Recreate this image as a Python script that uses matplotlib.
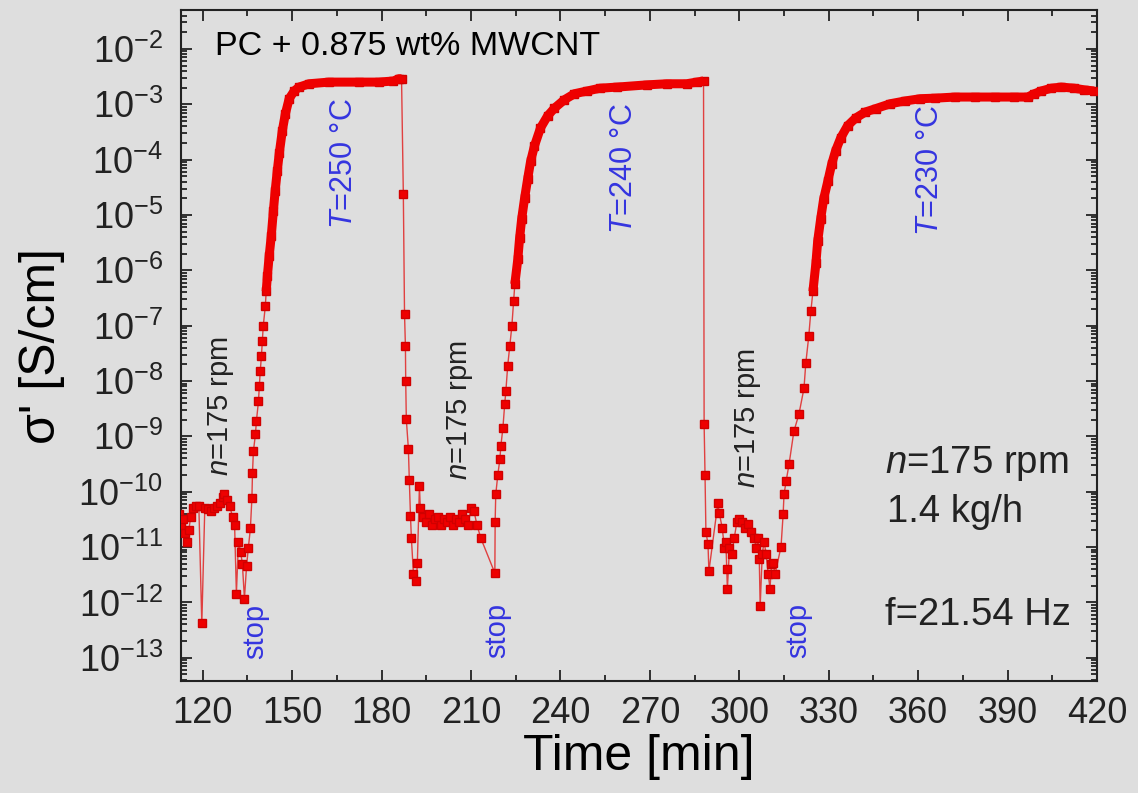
import numpy as np
import matplotlib
matplotlib.use("Agg")
import matplotlib.pyplot as plt
from matplotlib.ticker import LogLocator, MultipleLocator, NullFormatter

plt.rcParams['font.family'] = ['Liberation Sans', 'DejaVu Sans']
plt.rcParams['mathtext.fontset'] = 'custom'
plt.rcParams['mathtext.rm'] = 'Liberation Sans'
plt.rcParams['mathtext.it'] = 'Liberation Sans:italic'

# ---- data: time [min] and log10(sigma' [S/cm]) ----
# run 1 (T = 250 C): noisy part while extruding, then recovery after stop
run1_noise_t = [112.0, 112.7, 113.3, 114.0, 114.7, 115.3, 116.0, 116.7, 117.7, 118.7,
                119.7, 120.7, 121.7, 122.7, 123.7, 124.7, 125.7, 126.7, 127.3, 128.0,
                129.0, 130.0, 130.7, 131.3, 132.0, 132.7, 133.3, 134.0, 134.7, 135.3,
                136.0, 136.5]
run1_noise_log = [-10.4, -10.6, -10.5, -10.75, -10.9, -10.7, -10.45, -10.3, -10.25, -10.25,
                  -12.38, -10.3, -10.32, -10.35, -10.3, -10.25, -10.2, -10.1, -10.05, -10.15,
                  -10.25, -10.45, -10.6, -11.84, -10.9, -11.08, -11.3, -11.93, -11.35, -11.02,
                  -10.66, -10.12]
run1_rise_t = [136.7, 137.0, 137.7, 138.0, 138.7, 139.0, 139.3, 139.7, 140.0, 140.3,
               141.0, 141.3, 141.7, 142.3, 143.0, 143.7, 144.3, 145.0, 145.7, 146.7,
               147.7, 149.0, 150.7, 152.3, 155.7, 162.3, 172.3, 179.0, 184.0, 185.7, 186.7]
run1_rise_log = [-9.67, -9.27, -8.96, -8.73, -8.37, -8.09, -7.82, -7.55, -7.28, -7.01,
                 -6.65, -6.38, -6.10, -5.74, -5.38, -4.93, -4.57, -4.21, -3.88, -3.48,
                 -3.18, -2.90, -2.76, -2.69, -2.63, -2.60, -2.60, -2.60, -2.58, -2.54, -2.54]

# run 2 (T = 240 C)
run2_noise_t = [187.3, 187.7, 188.0, 188.1, 188.3, 189.0, 189.3, 189.7, 190.0, 190.7,
                191.7, 192.0, 192.7, 193.0, 194.0, 195.0, 196.0, 197.0, 198.0, 199.0,
                200.0, 201.0, 202.0, 203.0, 204.0, 205.0, 206.0, 207.0, 208.0, 209.0,
                210.0, 211.0, 212.0, 213.3]
run2_noise_log = [-4.62, -6.79, -7.37, -8.0, -8.69, -9.23, -9.78, -10.44, -10.84, -11.49,
                  -11.62, -11.29, -9.90, -10.30, -10.45, -10.55, -10.4, -10.6, -10.5, -10.45,
                  -10.6, -10.5, -10.55, -10.45, -10.6, -10.5, -10.55, -10.4, -10.5, -10.6,
                  -10.3, -10.35, -10.6, -10.84]
run2_rise_t = [218.0, 218.1, 218.3, 219.0, 219.7, 220.0, 220.7, 221.3, 221.7, 222.3,
               223.0, 223.7, 224.3, 224.7, 225.7, 226.3, 227.0, 228.0, 229.0, 230.0,
               231.3, 233.3, 235.7, 238.0, 241.3, 244.7, 249.0, 253.3, 259.0, 269.0,
               275.7, 282.3, 285.7, 288.0]
run2_rise_log = [-11.47, -10.54, -10.05, -9.69, -9.41, -9.18, -8.85, -8.42, -8.18, -7.73,
                 -7.37, -7.01, -6.56, -6.25, -5.80, -5.42, -5.07, -4.69, -4.35, -4.03,
                 -3.75, -3.43, -3.21, -3.07, -2.92, -2.81, -2.76, -2.71, -2.69, -2.65,
                 -2.63, -2.63, -2.60, -2.58]

# run 3 (T = 230 C)
run3_noise_t = [288.2, 288.5, 288.8, 289.5, 289.8, 292.8, 293.3, 294.3, 295.0, 295.5,
                295.8, 296.0, 296.7, 297.5, 298.3, 299.2, 300.0, 301.0, 302.0, 303.0,
                304.0, 305.0, 305.7, 306.3, 306.7, 307.0, 307.7, 308.3, 309.0, 309.7,
                310.3, 310.8, 311.3, 312.0, 314.0]
run3_noise_log = [-8.78, -9.69, -10.72, -10.95, -11.44, -10.21, -10.39, -10.66, -11.02, -10.90,
                  -11.39, -11.76, -11.02, -11.13, -10.84, -10.54, -10.50, -10.54, -10.66, -10.59,
                  -10.72, -10.84, -11.02, -10.84, -11.22, -12.07, -11.13, -10.90, -11.13, -11.49,
                  -11.75, -11.31, -11.29, -11.49, -10.99]
run3_rise_t = [314.7, 315.0, 315.7, 316.7, 318.3, 320.0, 321.7, 322.3, 323.3, 324.0,
               324.7, 325.7, 326.3, 327.3, 328.3, 329.7, 331.0, 332.3, 334.0, 336.3,
               339.0, 342.3, 345.7, 350.7, 355.7, 360.7, 365.7, 372.3, 379.0, 385.7,
               392.3, 396.7, 399.0, 401.3, 404.7, 408.0, 412.3, 415.7, 419.0]
run3_rise_log = [-10.41, -10.05, -9.81, -9.50, -8.91, -8.60, -8.13, -7.68, -7.19, -6.74,
                 -6.38, -5.87, -5.47, -5.07, -4.71, -4.39, -4.08, -3.84, -3.61, -3.39,
                 -3.25, -3.14, -3.08, -2.99, -2.94, -2.90, -2.89, -2.87, -2.87, -2.87,
                 -2.87, -2.87, -2.81, -2.76, -2.71, -2.69, -2.71, -2.74, -2.76]

temps = ['250', '240', '230']

bg = '#dedede'
red = '#ee0000'
blue = '#3535e0'

fig = plt.figure(figsize=(11.38, 7.93), dpi=100, facecolor=bg)
ax = fig.add_axes([0.159, 0.1412, 0.805, 0.846], facecolor=bg)

runs = [(run1_noise_t, run1_noise_log, run1_rise_t, run1_rise_log),
        (run2_noise_t, run2_noise_log, run2_rise_t, run2_rise_log),
        (run3_noise_t, run3_noise_log, run3_rise_t, run3_rise_log)]

all_t = []
all_s = []
for nt, nl, rt, rl in runs:
    all_t += nt + rt
    all_s += list(10.0 ** np.array(nl + rl))
all_t = np.array(all_t)
all_s = np.array(all_s)

# thin connecting line + square markers
ax.plot(all_t, all_s, '-', color='#e04040', lw=1.0, zorder=2)
ax.plot(all_t, all_s, 's', color=red, mec='#d00000', ms=5.5, zorder=3)
# dense part of each recovery curve looks like a thick band
for nt, nl, rt, rl in runs:
    s = 10.0 ** np.array(rl)
    m = s > 3e-7
    ax.plot(np.array(rt)[m], s[m], '-', color=red, lw=6.5,
            solid_capstyle='butt', zorder=3)

ax.set_yscale('log')
ax.set_xlim(112.7, 420)
ax.set_ylim(10 ** -13.42, 10 ** -1.3)

ax.xaxis.set_major_locator(MultipleLocator(30))
ax.xaxis.set_minor_locator(MultipleLocator(15))
ax.yaxis.set_major_locator(LogLocator(base=10, numticks=20))
ax.yaxis.set_minor_locator(LogLocator(base=10, subs=np.arange(2, 10), numticks=20))
ax.yaxis.set_minor_formatter(NullFormatter())

ax.tick_params(which='both', direction='in', top=True, right=True, width=1.3, colors='#222222')
ax.tick_params(which='major', length=8)
ax.tick_params(which='minor', length=4.5)
ax.tick_params(axis='x', which='major', labelsize=26, pad=11)
ax.tick_params(axis='y', which='major', labelsize=26, pad=13)
for sp in ax.spines.values():
    sp.set_linewidth(1.5)
    sp.set_color('#222222')

ax.set_xlabel('Time [min]', fontsize=36, labelpad=2)
ax.set_ylabel("σ' [S/cm]", fontsize=36, labelpad=10)

ax.text(124, 10 ** -1.95, 'PC + 0.875 wt% MWCNT', fontsize=24.5, va='center', ha='left')

# rotated annotations
rpm_pos = [(126.3, -9.72), (206.3, -9.78), (303.0, -9.94)]
stop_pos = [(137.7, -13.03), (218.7, -13.01), (319.7, -13.01)]
temp_pos = [(167.3, -5.25), (261.3, -5.35), (364.0, -5.38)]
for (xr, yr), (xs, ys), (xt, yt), T in zip(rpm_pos, stop_pos, temp_pos, temps):
    ax.text(xr, 10 ** yr, '$n$=175 rpm', rotation=90, fontsize=21,
            ha='center', va='bottom', color='#222222')
    ax.text(xs, 10 ** ys, 'stop', rotation=90, fontsize=21,
            ha='center', va='bottom', color=blue)
    ax.text(xt, 10 ** yt, '$T$=' + T + ' °C', rotation=90, fontsize=22,
            ha='center', va='bottom', color=blue)

ax.text(349.0, 10 ** -9.49, '$n$=175 rpm', fontsize=27.5, va='center', ha='left', color='#222222')
ax.text(349.5, 10 ** -10.36, '1.4 kg/h', fontsize=27.5, va='center', ha='left', color='#222222')
ax.text(349.0, 10 ** -12.22, 'f=21.54 Hz', fontsize=27.5, va='center', ha='left', color='#222222')

fig.savefig('out.png', dpi=100, facecolor=bg)
